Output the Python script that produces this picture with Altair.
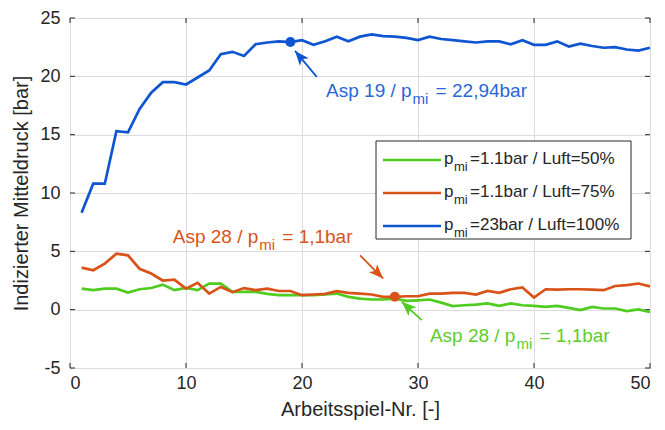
import altair as alt
import pandas as pd

# ---------------- data ----------------
cycles = list(range(1, 51))
p_green = [1.8, 1.67, 1.8, 1.8, 1.47, 1.75, 1.86, 2.15, 1.67, 1.86,
           1.67, 2.24, 2.24, 1.52, 1.52, 1.52, 1.35, 1.25, 1.25, 1.25,
           1.25, 1.3, 1.38, 1.1, 0.95, 0.87, 0.87, 0.95, 0.75, 0.8,
           0.87, 0.6, 0.3, 0.38, 0.44, 0.53, 0.33, 0.53, 0.38, 0.33,
           0.24, 0.33, 0.15, -0.04, 0.24, 0.1, 0.1, -0.13, 0.02, -0.2]
p_orange = [3.6, 3.38, 3.95, 4.8, 4.66, 3.5, 3.1, 2.5, 2.58, 1.8,
            2.3, 1.38, 1.95, 1.5, 1.85, 1.67, 1.8, 1.6, 1.6, 1.24,
            1.3, 1.36, 1.58, 1.44, 1.38, 1.3, 1.1, 1.1, 1.15, 1.15,
            1.38, 1.38, 1.44, 1.44, 1.3, 1.6, 1.44, 1.75, 1.9, 1.04,
            1.75, 1.72, 1.75, 1.75, 1.72, 1.67, 2.03, 2.1, 2.24, 2.0]
p_blue = [8.3, 10.8, 10.8, 15.3, 15.2, 17.2, 18.6, 19.5, 19.5, 19.3,
          19.9, 20.5, 21.9, 22.1, 21.75, 22.75, 22.9, 23.0, 22.94, 23.1,
          22.7, 23.0, 23.4, 23.0, 23.4, 23.6, 23.45, 23.4, 23.3, 23.1,
          23.4, 23.2, 23.1, 23.0, 22.9, 23.0, 23.0, 22.75, 23.1, 22.7,
          22.7, 23.0, 22.55, 22.8, 22.6, 22.45, 22.5, 22.3, 22.2, 22.45]

series_values = [p_green, p_orange, p_blue]
legend_rest = ["=1.1bar / Luft=50%", "=1.1bar / Luft=75%", "=23bar / Luft=100%"]
line_colors = ["#4fcc1f", "#d95319", "#0f55d2"]
text_colors = ["#5ccd2c", "#d95319", "#2a66d8"]

x_ticks = [0, 10, 20, 30, 40, 50]
y_ticks = [-5, 0, 5, 10, 15, 20, 25]

# highlighted points: (cycle, value)
mark_blue = (19, 22.94)
mark_orange = (28, 1.1)

# annotation texts (prefix, subscript, rest) and their anchor (x, y) in data units
ann_text = [("Asp 19 / p", "mi", "= 22,94bar"),
            ("Asp 28 / p", "mi", "= 1,1bar"),
            ("Asp 28 / p", "mi", "= 1,1bar")]
ann_anchor = [(29.45, 18.19), (16.23, 5.71), (38.4, -2.74)]
ann_color = [text_colors[2], text_colors[1], text_colors[0]]
# arrows: tail (x, y) -> tip (x, y) in data units
arrow_tail = [(21.27, 19.96), (25.0, 4.66), (30.32, -0.9)]
arrow_tip = [(19.4, 22.18), (27.0, 2.67), (28.6, 0.67)]
arrow_angle = [320, 135, 312.5]
arrow_color = [line_colors[2], line_colors[1], line_colors[0]]

# ---------------- layout / style ----------------
W, H = 580, 350
FONT = "Liberation Sans"
DARK = "#262626"
ARROW = "M0,0L0.8,2L0,1.5L-0.8,2Z"

xscale = alt.Scale(domain=[0, 50], nice=False, zero=False)
yscale = alt.Scale(domain=[-5, 25], nice=False, zero=False)
xaxis = alt.Axis(values=x_ticks, title="Arbeitsspiel-Nr. [-]", labelPadding=6,
                 titlePadding=7, labelExpr="'' + datum.value")
yaxis = alt.Axis(values=y_ticks, title="Indizierter Mitteldruck [bar]", labelPadding=10,
                 titlePadding=8, labelExpr="'' + datum.value")


def X(field="x"):
    return alt.X(f"{field}:Q", scale=xscale, axis=xaxis)


def Y(field="y"):
    return alt.Y(f"{field}:Q", scale=yscale, axis=yaxis)


one = pd.DataFrame({"k": [0]})
layers = []

# inner ticks on all four sides
tx = pd.DataFrame({"x": x_ticks})
ty = pd.DataFrame({"y": y_ticks})
for y0, y1 in [(0, 5), (H, H - 5)]:
    layers.append(alt.Chart(tx).mark_rule(color=DARK, strokeWidth=1).encode(
        x=X(), y=alt.value(y0), y2=alt.value(y1)))
for x0, x1 in [(0, 5), (W, W - 5)]:
    layers.append(alt.Chart(ty).mark_rule(color=DARK, strokeWidth=1).encode(
        y=Y(), x=alt.value(x0), x2=alt.value(x1)))

# series lines
for vals, col in zip(series_values, line_colors):
    d = pd.DataFrame({"x": cycles, "y": vals})
    layers.append(alt.Chart(d).mark_line(color=col, strokeWidth=2.7).encode(x=X(), y=Y()))

# highlighted points
for (px, py), col in [(mark_blue, line_colors[2]), (mark_orange, line_colors[1])]:
    d = pd.DataFrame({"x": [px], "y": [py]})
    layers.append(alt.Chart(d).mark_circle(size=100, opacity=1, color=col).encode(x=X(), y=Y()))

# arrows
for (tx0, ty0), (tx1, ty1), ang, col in zip(arrow_tail, arrow_tip, arrow_angle, arrow_color):
    d = pd.DataFrame({"x": [tx0], "y": [ty0], "x2": [tx1], "y2": [ty1]})
    layers.append(alt.Chart(d).mark_rule(color=col, strokeWidth=1.8).encode(
        x=X(), y=Y(), x2="x2:Q", y2="y2:Q"))
    d2 = pd.DataFrame({"x": [tx1], "y": [ty1]})
    layers.append(alt.Chart(d2).mark_point(shape=ARROW, filled=True, size=210, angle=ang,
                                           color=col, opacity=1).encode(x=X(), y=Y()))

# annotation texts with subscript
for (pre, sub, rest), (ax, ay), col in zip(ann_text, ann_anchor, ann_color):
    d = pd.DataFrame({"x": [ax], "y": [ay]})
    base = alt.Chart(d)
    layers.append(base.mark_text(text=pre, align="right", baseline="alphabetic", font=FONT,
                                 fontSize=19, color=col).encode(x=X(), y=Y()))
    layers.append(base.mark_text(text=sub, align="left", baseline="alphabetic", font=FONT,
                                 fontSize=15, color=col, dx=1, dy=7).encode(x=X(), y=Y()))
    layers.append(base.mark_text(text=rest, align="left", baseline="alphabetic", font=FONT,
                                 fontSize=19, color=col, dx=24).encode(x=X(), y=Y()))

# legend box
layers.append(alt.Chart(one).mark_rect(fill="white", stroke=DARK, strokeWidth=1).encode(
    x=alt.value(306), x2=alt.value(561), y=alt.value(123), y2=alt.value(221)))
for i, (rest, col) in enumerate(zip(legend_rest, line_colors)):
    ly = 142 + 33 * i
    layers.append(alt.Chart(one).mark_rule(color=col, strokeWidth=2.7).encode(
        x=alt.value(313), x2=alt.value(371), y=alt.value(ly)))
    layers.append(alt.Chart(one).mark_text(text="p", align="left", baseline="alphabetic",
                                           font=FONT, fontSize=17, color=DARK).encode(
        x=alt.value(374), y=alt.value(ly + 4)))
    layers.append(alt.Chart(one).mark_text(text="mi", align="left", baseline="alphabetic",
                                           font=FONT, fontSize=13, color=DARK).encode(
        x=alt.value(384), y=alt.value(ly + 11)))
    layers.append(alt.Chart(one).mark_text(text=rest, align="left", baseline="alphabetic",
                                           font=FONT, fontSize=17, color=DARK).encode(
        x=alt.value(400), y=alt.value(ly + 4)))

chart = alt.layer(*layers).properties(
    width=W, height=H,
    autosize=alt.AutoSizeParams(type="none"),
    padding={"left": 62, "top": 10, "right": 7, "bottom": 54},
).configure_view(stroke=DARK, strokeWidth=1).configure_axis(
    grid=True, gridColor="#dcdcdc", gridWidth=1, domain=False, ticks=False,
    labelFont=FONT, labelFontSize=18, labelColor=DARK,
    titleFont=FONT, titleFontSize=20, titleFontWeight="normal", titleColor=DARK,
)

chart.save("out.html", embed_options={"renderer": "svg", "actions": False})
